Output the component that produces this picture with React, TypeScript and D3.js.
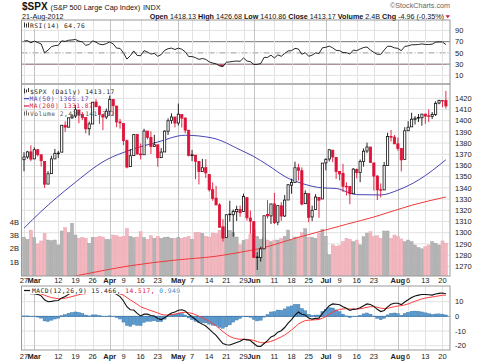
import React from "react";
import * as d3 from "d3";

// trading days shown (Feb 27 .. Aug 21, 2012)
const dates = [
  "2012-02-27","2012-02-28","2012-02-29","2012-03-01","2012-03-02",
  "2012-03-05","2012-03-06","2012-03-07","2012-03-08","2012-03-09",
  "2012-03-12","2012-03-13","2012-03-14","2012-03-15","2012-03-16",
  "2012-03-19","2012-03-20","2012-03-21","2012-03-22","2012-03-23",
  "2012-03-26","2012-03-27","2012-03-28","2012-03-29","2012-03-30",
  "2012-04-02","2012-04-03","2012-04-04","2012-04-05",
  "2012-04-09","2012-04-10","2012-04-11","2012-04-12","2012-04-13",
  "2012-04-16","2012-04-17","2012-04-18","2012-04-19","2012-04-20",
  "2012-04-23","2012-04-24","2012-04-25","2012-04-26","2012-04-27",
  "2012-04-30","2012-05-01","2012-05-02","2012-05-03","2012-05-04",
  "2012-05-07","2012-05-08","2012-05-09","2012-05-10","2012-05-11",
  "2012-05-14","2012-05-15","2012-05-16","2012-05-17","2012-05-18",
  "2012-05-21","2012-05-22","2012-05-23","2012-05-24","2012-05-25",
  "2012-05-29","2012-05-30","2012-05-31","2012-06-01",
  "2012-06-04","2012-06-05","2012-06-06","2012-06-07","2012-06-08",
  "2012-06-11","2012-06-12","2012-06-13","2012-06-14","2012-06-15",
  "2012-06-18","2012-06-19","2012-06-20","2012-06-21","2012-06-22",
  "2012-06-25","2012-06-26","2012-06-27","2012-06-28","2012-06-29",
  "2012-07-02","2012-07-03","2012-07-05","2012-07-06",
  "2012-07-09","2012-07-10","2012-07-11","2012-07-12","2012-07-13",
  "2012-07-16","2012-07-17","2012-07-18","2012-07-19","2012-07-20",
  "2012-07-23","2012-07-24","2012-07-25","2012-07-26","2012-07-27",
  "2012-07-30","2012-07-31","2012-08-01","2012-08-02","2012-08-03",
  "2012-08-06","2012-08-07","2012-08-08","2012-08-09","2012-08-10",
  "2012-08-13","2012-08-14","2012-08-15","2012-08-16","2012-08-17",
  "2012-08-20","2012-08-21",
];

const opens = [
  1365.2,1367.6,1372.2,1365.9,1374.1, 1369.6,1363.6,1343.4,1352.7,1365.9,
  1370.8,1371.9,1395.9,1394.2,1402.6, 1404.2,1409.6,1405.5,1402.9,1392.8,
  1397.1,1416.6,1412.5,1405.4,1403.3, 1408.5,1419.0,1413.1,1398.8,
  1397.5,1382.2,1359.0,1368.8,1387.6, 1370.3,1369.6,1390.8,1385.1,1377.0,
  1378.5,1367.0,1372.1,1390.6,1400.2, 1403.3,1397.9,1405.5,1402.3,1391.5,
  1368.8,1369.2,1363.7,1354.6,1358.1, 1351.9,1338.4,1330.8,1324.8,1305.1,
  1295.7,1316.1,1316.0,1318.7,1320.8, 1318.9,1331.3,1313.1,1309.9,
  1278.3,1277.8,1285.6,1316.2,1315.0, 1325.7,1309.4,1324.0,1314.9,1329.2,
  1342.4,1344.8,1358.0,1355.4,1325.9, 1334.9,1314.1,1320.7,1331.5,1330.1,
  1362.3,1365.8,1373.7,1367.1, 1354.7,1353.0,1341.4,1341.3,1334.8,
  1356.5,1353.7,1363.5,1373.0,1376.5, 1362.3,1350.5,1338.4,1338.2,1360.1,
  1385.9,1385.3,1379.3,1375.1,1365.5, 1391.0,1394.5,1401.2,1402.3,1402.6,
  1405.9,1404.4,1403.9,1405.6,1415.8, 1417.9,1418.13,
];
const highs = [
  1371.9,1373.1,1378.0,1376.2,1374.5, 1369.6,1363.6,1354.9,1368.7,1374.8,
  1373.0,1396.1,1399.4,1402.6,1405.9, 1414.0,1409.6,1407.8,1402.9,1399.2,
  1416.6,1419.2,1413.7,1405.4,1410.9, 1422.4,1419.0,1413.1,1401.6,
  1397.5,1383.0,1374.7,1388.1,1387.6, 1379.7,1392.8,1390.8,1390.5,1387.4,
  1378.5,1375.6,1391.4,1402.1,1406.6, 1403.3,1415.3,1405.5,1403.1,1391.5,
  1373.9,1369.2,1363.7,1365.9,1365.7, 1351.9,1344.9,1341.8,1326.4,1312.2,
  1316.4,1328.5,1320.7,1324.1,1324.2, 1334.9,1331.3,1319.7,1309.9,
  1282.6,1287.6,1315.1,1329.1,1325.8, 1335.5,1324.3,1327.3,1333.7,1343.3,
  1348.2,1363.5,1361.6,1358.3,1337.8, 1334.9,1324.2,1334.4,1331.5,1362.2,
  1366.4,1374.8,1373.9,1367.1, 1354.9,1361.5,1345.0,1341.3,1357.7,
  1357.3,1365.4,1375.3,1380.4,1376.5, 1362.3,1351.5,1344.0,1363.1,1389.2,
  1391.7,1387.2,1385.0,1375.1,1394.2, 1399.6,1407.1,1404.1,1406.0,1406.0,
  1405.9,1410.0,1407.7,1417.4,1418.7, 1418.1,1426.68,
];
const lows = [
  1354.9,1365.9,1363.8,1365.9,1368.0, 1359.1,1340.0,1343.4,1352.7,1365.9,
  1366.7,1371.9,1390.0,1394.2,1401.5, 1402.4,1397.7,1400.6,1388.7,1386.9,
  1397.1,1411.9,1397.2,1391.6,1401.4, 1404.5,1404.6,1394.1,1392.9,
  1378.2,1357.4,1359.0,1368.8,1369.9, 1365.4,1369.6,1383.3,1370.3,1377.0,
  1358.8,1366.8,1372.1,1387.3,1397.3, 1394.0,1395.7,1393.9,1388.7,1368.0,
  1363.9,1347.8,1343.1,1354.6,1348.9, 1336.6,1328.5,1324.8,1304.9,1292.0,
  1295.7,1310.0,1296.5,1310.5,1314.2, 1318.9,1310.8,1298.9,1277.3,
  1266.7,1274.2,1285.6,1312.7,1307.8, 1307.7,1306.6,1310.5,1314.1,1329.2,
  1334.8,1344.8,1346.5,1324.4,1325.9, 1309.3,1310.3,1320.7,1313.3,1330.1,
  1355.7,1363.5,1363.0,1348.0, 1346.7,1336.3,1333.2,1325.4,1334.8,
  1348.5,1345.1,1359.0,1371.2,1362.2, 1337.6,1329.2,1331.5,1338.2,1360.1,
  1381.4,1379.2,1373.1,1354.7,1365.5, 1391.0,1394.5,1396.6,1398.8,1395.6,
  1397.3,1398.8,1401.5,1404.2,1414.7, 1412.1,1410.86,
];
const closes = [
  1367.59,1372.18,1365.68,1374.09,1369.63, 1364.33,1343.36,1352.63,1365.91,1370.87,
  1371.09,1395.95,1394.28,1402.60,1404.17, 1409.75,1405.52,1402.89,1392.78,1397.11,
  1416.51,1412.52,1405.54,1403.28,1408.47, 1419.04,1413.38,1398.96,1398.08,
  1382.20,1358.59,1368.71,1387.57,1370.26, 1369.57,1390.78,1385.14,1376.92,1378.53,
  1366.94,1371.97,1390.69,1399.98,1403.36, 1397.91,1405.82,1402.31,1391.57,1369.10,
  1369.58,1363.72,1354.58,1357.99,1353.39, 1338.35,1330.66,1324.80,1304.86,1295.22,
  1315.99,1316.63,1318.86,1320.68,1317.82, 1332.42,1313.32,1310.33,1278.04,
  1278.18,1285.50,1315.13,1314.99,1325.66, 1308.93,1324.18,1314.88,1329.10,1342.84,
  1344.78,1357.98,1355.69,1325.51,1335.02, 1313.72,1319.99,1331.85,1329.04,1362.16,
  1365.51,1374.02,1367.58,1354.68, 1352.46,1341.47,1341.45,1334.76,1356.78,
  1353.64,1363.67,1372.78,1376.51,1362.66, 1350.52,1338.31,1337.89,1360.02,1385.97,
  1385.30,1379.32,1375.32,1365.00,1390.99, 1394.23,1401.35,1402.22,1402.80,1405.87,
  1404.11,1403.93,1405.53,1415.51,1418.16, 1418.13,1413.17,
];
const priorClose = 1365.74;

// volume, billions of shares
const volumes = [
  2.88,2.72,3.43,2.85,2.37, 2.6,3.18,2.67,2.62,2.67,
  2.29,3.36,3.61,3.23,3.95, 3.05,2.8,2.88,2.8,2.42,
  2.88,2.88,2.95,2.9,2.72, 2.7,3.05,3.0,2.9,
  2.95,3.55,2.95,2.85,2.9, 3.3,2.85,2.72,3.0,2.8,
  2.95,2.8,2.88,2.9,2.8, 2.8,2.88,2.8,2.88,2.95,
  2.72,3.23,3.23,3.18,2.95, 2.9,3.2,3.15,3.4,3.69,
  2.88,3.4,3.25,2.9,2.3, 2.65,2.7,3.1,3.45,
  2.95,2.72,2.8,2.67,2.55, 2.67,2.67,2.8,2.95,3.43,
  2.67,2.9,2.9,3.23,3.55, 2.88,2.88,2.8,3.18,3.49,
  2.95,1.55,2.3,2.2, 2.25,2.55,2.8,2.72,2.55,
  2.67,2.3,2.93,3.2,3.3, 2.93,3.0,2.8,3.36,3.36,
  2.8,3.05,2.93,2.75,2.55, 2.67,2.55,2.29,2.1,2.0,
  2.16,2.29,2.55,2.42,2.29, 2.6,2.436,
];

const rsi14 = [
  71,72,68,71,68.5, 66,50,55,61,63,
  63.5,71.5,70.5,72.5,73, 74,71,69.5,63.5,65,
  71.5,69,65.5,64.5,66.5, 69.5,66,58.5,58,
  50,39,45,53.5,45.5, 45,54,51.5,48,49,
  44,47,54.5,57.5,58.5, 56,58.5,56.5,52,43.5,
  43.5,41.5,38.5,40,38.5, 34,32,30.5,27,25.5,
  33.5,34,35,35.5,35, 41,35.5,34.5,29.5,
  29.5,31,42,42,46, 41,46.5,44,49,53.5,
  54,58,57,47.5,50.5, 44,46,50,49,59,
  60,62,59,54.5, 54,50.5,50.5,48,55,
  54,57,59.5,60.5,55, 51,47.5,47.5,55,62,
  61.5,59,58,54,61.5, 62.5,64.5,64.5,65,66,
  65,65,65.5,69,69.5, 69.5,64.76,
];

const macdLine = [
  15.8,15.9,15.4,15.5,15.0, 14.0,11.3,10.0,10.2,10.6,
  10.8,12.6,13.6,15.0,16.1, 17.2,17.4,17.3,16.4,15.9,
  16.8,17.0,16.6,16.0,15.9, 16.4,16.2,15.0,13.5,
  10.5,6.6,4.5,4.3,2.0, 0.3,1.5,1.5,0.6,0.2,
  -1.4,-2.2,-1.0,0.8,2.3, 3.0,4.2,4.5,3.7,1.4,
  -0.3,-2.1,-4.1,-5.3,-6.6, -8.7,-10.9,-12.9,-15.9,-18.5,
  -19.3,-19.5,-18.6,-17.8,-17.0, -15.6,-16.0,-16.5,-18.5,
  -20.3,-20.5,-18.5,-16.5,-14.0, -13.0,-10.8,-9.8,-7.6,-4.6,
  -2.2,0.9,3.0,1.4,0.9, -1.2,-1.9,-1.4,-1.2,2.0,
  4.6,7.3,8.5,8.3, 7.9,6.6,5.5,4.1,4.8,
  5.0,5.9,7.3,8.5,8.1, 6.8,4.8,3.3,4.0,6.5,
  8.2,8.9,8.9,8.0,9.8, 11.3,12.9,13.9,14.5,14.9,
  14.9,14.7,14.5,15.2,15.7, 15.9,15.466,
];
const signalLine = [
  15.5,15.6,15.6,15.6,15.5, 15.2,14.4,13.5,12.8,12.4,
  12.0,12.1,12.4,12.9,13.5, 14.2,14.8,15.3,15.5,15.6,
  15.8,16.0,16.1,16.1,16.1, 16.1,16.1,15.8,15.3,
  14.4,12.8,11.2,9.8,8.2, 6.6,5.6,4.8,3.9,3.2,
  2.3,1.4,0.9,0.9,1.2, 1.5,2.1,2.6,2.8,2.5,
  2.0,1.2,0.1,-1.0,-2.1, -3.4,-4.9,-6.5,-8.4,-10.4,
  -12.2,-13.7,-14.7,-15.3,-15.6, -15.6,-15.7,-15.9,-16.4,
  -17.2,-17.9,-18.0,-17.7,-17.0, -16.2,-15.1,-14.0,-12.7,-11.1,
  -9.3,-7.3,-5.2,-3.9,-2.9, -2.6,-2.5,-2.3,-2.1,-1.3,
  -0.1,1.4,2.8,3.9, 4.7,5.1,5.2,5.0,5.0,
  5.0,5.2,5.6,6.2,6.6, 6.6,6.2,5.6,5.3,5.5,
  6.1,6.6,7.1,7.3,7.8, 8.5,9.4,10.3,11.1,11.9,
  12.5,12.9,13.2,13.6,14.0, 14.4,14.517,
];
const macdHist = [
  0.3,0.3,-0.2,-0.1,-0.5, -1.2,-3.1,-3.5,-2.6,-1.8,
  -1.2,0.5,1.2,2.1,2.6, 3.0,2.6,2.0,0.9,0.3,
  1.0,1.0,0.5,-0.1,-0.2, 0.3,0.1,-0.8,-1.8,
  -3.9,-6.2,-6.7,-5.5,-6.2, -6.3,-4.1,-3.3,-3.3,-3.0,
  -3.7,-3.6,-1.9,-0.1,1.1, 1.5,2.1,1.9,0.9,-1.1,
  -2.3,-3.3,-4.2,-4.3,-4.5, -5.3,-6.0,-6.4,-7.5,-8.1,
  -7.1,-5.8,-3.9,-2.5,-1.4, 0.0,-0.3,-0.6,-2.1,
  -3.1,-2.6,-0.5,1.2,3.0, 3.2,4.3,4.2,5.1,6.5,
  7.1,8.2,8.2,5.3,3.8, 1.4,0.6,0.9,0.9,3.3,
  4.7,5.9,5.7,4.4, 3.2,1.5,0.3,-0.9,-0.2,
  0.0,0.7,1.7,2.3,1.5, 0.2,-1.4,-2.3,-1.3,1.0,
  2.1,2.3,1.8,0.7,2.0, 2.8,3.5,3.6,3.4,3.0,
  2.4,1.8,1.3,1.6,1.7, 1.5,0.949,
];

// moving averages at a few dates
const ma50Dates = ["2012-02-27","2012-03-05","2012-03-16","2012-03-30","2012-04-11","2012-04-23",
  "2012-05-03","2012-05-15","2012-05-25","2012-06-01","2012-06-07","2012-06-15","2012-06-21",
  "2012-06-29","2012-07-06","2012-07-12","2012-07-16","2012-07-25","2012-08-01","2012-08-09","2012-08-21"];
const ma50Values = [1304,1319,1342.6,1365,1373.8,1381,1387,1384.5,1374,1368,1360.5,1348.6,1344,
  1340,1339.5,1335.5,1334,1333.7,1338,1347,1365.17];
const ma200Dates = ["2012-02-27","2012-03-20","2012-04-11","2012-04-30","2012-05-16","2012-05-25",
  "2012-06-05","2012-06-19","2012-07-02","2012-07-11","2012-07-23","2012-08-07","2012-08-21"];
const ma200Values = [1252.5,1262,1270.5,1275.5,1279,1282.5,1286,1295,1302.5,1307.5,1314,1324.5,1331.87];

const tickDates = ["2012-02-27","2012-03-01","2012-03-12","2012-03-19","2012-03-26","2012-04-02",
  "2012-04-09","2012-04-16","2012-04-23","2012-05-01","2012-05-07","2012-05-14","2012-05-21",
  "2012-05-29","2012-06-01","2012-06-11","2012-06-18","2012-06-25","2012-07-02","2012-07-09",
  "2012-07-16","2012-07-23","2012-08-01","2012-08-06","2012-08-13","2012-08-20"];
const tickLabels = ["27","Mar","12","19","26","Apr","9","16","23","May","7","14","21",
  "29","Jun","11","18","25","Jul","9","16","23","Aug","6","13","20"];

const priceTicks = [1270,1280,1290,1300,1310,1320,1330,1340,1350,1360,1370,1380,1390,1400,1410,1420];
const volumeTicks = [1, 2, 3, 4];
const rsiTicks = [10, 30, 50, 70, 90];
const macdTicks = [10, 0, -10, -20];

const L = 21.5, R = 450;
const rsiTop = 20, rsiBot = 84;
const priceTop = 84, priceBot = 276;
const macdTop = 286, macdBot = 350;

const RED = "#dc1438";
const FONT = "Liberation Sans, Arial, sans-serif";
const MONO = "DejaVu Sans Mono, monospace";

export default function App() {
  const dayIndex = new Map(dates.map((d, i) => [d, i]));
  const x = d3.scaleLinear().domain([0, dates.length - 1]).range([24, 445.9]);
  const yP = d3.scaleLinear().domain([1270, 1420]).range([266.3, 98.3]);
  const yV = d3.scaleLinear().domain([0, 4]).range([275, 222.6]);
  const yR = d3.scaleLinear().domain([0, 100]).range([81, 24.8]);
  const yM = d3.scaleLinear().domain([-20, 10]).range([345.7, 301.7]);

  const rsiPath = d3.line<number>().x((_, i) => x(i)).y((v) => yR(v))(rsi14) || "";
  const rsiArea = d3.area<number>().x((_, i) => x(i)).y0(yR(30)).y1((v) => yR(v))(rsi14) || "";
  const macdPath = d3.line<number>().x((_, i) => x(i)).y((v) => yM(v))(macdLine) || "";
  const sigPath = d3.line<number>().x((_, i) => x(i)).y((v) => yM(v))(signalLine) || "";
  const maLine = d3.line<[number, number]>().x((d) => x(d[0])).y((d) => yP(d[1])).curve(d3.curveMonotoneX);
  const ma50Path = maLine(ma50Dates.map((d, k) => [dayIndex.get(d)!, ma50Values[k]])) || "";
  const ma200Path = maLine(ma200Dates.map((d, k) => [dayIndex.get(d)!, ma200Values[k]])) || "";

  const ticks = tickDates.map((d, k) => ({ i: dayIndex.get(d)!, label: tickLabels[k], month: /^[A-Z]/.test(tickLabels[k]) }));

  const vGrid = (top: number, bot: number) =>
    ticks.map((t, k) => (
      <line key={"g" + k} x1={Math.round(x(t.i)) + 0.5} x2={Math.round(x(t.i)) + 0.5} y1={top} y2={bot}
        stroke={t.month ? "#c4c4c4" : "#e2e2e2"} strokeWidth={1} />
    ));

  const dateRow = (y: number) =>
    ticks.map((t, k) => (
      <text key={"d" + k} x={x(t.i)} y={y} textAnchor="middle" fontSize={7.5}
        fontWeight={t.month ? "bold" : "normal"} fill="#222">{t.label}</text>
    ));

  // legend font: small size with extra letter spacing keeps the chart's character pitch
  const legend = { fontFamily: MONO, fontSize: 6.3, letterSpacing: 0.45 };

  return (
    <svg width={480} height={363} style={{ position: "absolute", left: 0, top: 0, background: "#fff" }}
      fontFamily={FONT}>
      <defs>
        <clipPath id="cr"><rect x={L} y={rsiTop} width={R - L} height={rsiBot - rsiTop} /></clipPath>
        <clipPath id="cr30"><rect x={L} y={yR(30)} width={R - L} height={rsiBot - yR(30)} /></clipPath>
        <clipPath id="cp"><rect x={L} y={priceTop} width={R - L} height={priceBot - priceTop} /></clipPath>
        <clipPath id="cm"><rect x={L} y={macdTop} width={R - L} height={macdBot - macdTop} /></clipPath>
      </defs>
      <rect width={480} height={363} fill="#fff" />

      {/* header */}
      <text x={22} y={10.3} fontSize={10} fontWeight="bold" fill="#111">$SPX
        <tspan fontSize={7.3} fontWeight="normal" dx={3}>(S&amp;P 500 Large Cap Index)</tspan>
        <tspan fontSize={7.3} fontWeight="normal" dx={3}>INDX</tspan>
      </text>
      <text x={22} y={19.4} fontSize={7.2} fill="#111">21-Aug-2012</text>
      <text x={450} y={7.8} fontSize={7.2} fill="#666" textAnchor="end">©StockCharts.com</text>
      <text x={444} y={19.4} fontSize={7.2} fill="#111" textAnchor="end">
        <tspan fontWeight="bold">Open</tspan> 1418.13 <tspan fontWeight="bold">High</tspan> 1426.68{" "}
        <tspan fontWeight="bold">Low</tspan> 1410.86 <tspan fontWeight="bold">Close</tspan> 1413.17{" "}
        <tspan fontWeight="bold">Volume</tspan> 2.4B <tspan fontWeight="bold">Chg</tspan> -4.96 (-0.35%)
      </text>
      <path d="M445.5,15.2 L450,15.2 L447.75,18.2 Z" fill={RED} />

      {/* RSI panel */}
      {rsiTicks.map((t) => (
        <line key={"rg" + t} x1={L} x2={R} y1={yR(t)} y2={yR(t)}
          stroke={t === 70 || t === 30 ? "#777" : t === 50 ? "#999" : "#e2e2e2"}
          strokeDasharray={t === 50 ? "6,2,1,2" : undefined} strokeWidth={1} />
      ))}
      {vGrid(rsiTop, rsiBot)}
      <g clipPath="url(#cr)">
        <path d={rsiArea} fill="#b8304c" clipPath="url(#cr30)" />
        <path d={rsiPath} fill="none" stroke="#111" strokeWidth={0.9} />
      </g>
      <rect x={23} y={21.5} width={66} height={7.5} fill="#fff" />
      <path d="M24.5,22.5 v5 M26.5,23.5 v4 M28.5,22.5 v5" stroke="#333" strokeWidth={1} />
      <text x={30} y={27.8} {...legend} fill="#222">RSI(14) 64.76</text>
      {rsiTicks.map((t) => (
        <text key={"rt" + t} x={455} y={yR(t) + 2.6} fontSize={7.5} fill="#222">{t}</text>
      ))}
      <rect x={L} y={rsiTop} width={R - L} height={rsiBot - rsiTop} fill="none" stroke="#999" />

      {/* price panel */}
      {priceTicks.map((t) => (
        <line key={"pg" + t} x1={L} x2={R} y1={yP(t)} y2={yP(t)} stroke="#e2e2e2" />
      ))}
      {vGrid(priceTop, priceBot)}
      <g clipPath="url(#cp)">
        {volumes.map((v, i) => {
          const down = closes[i] < (i === 0 ? priorClose : closes[i - 1]);
          return (
            <rect key={"v" + i} x={x(i) - 1.5} y={yV(v)} width={3} height={yV(0) - yV(v) + 2}
              fill={down ? "#f3b7c0" : "#b4b4b4"} stroke={down ? "#e79aa6" : "#9c9c9c"} strokeWidth={0.4} />
          );
        })}
        <path d={ma200Path} fill="none" stroke="#f03a3a" strokeWidth={1} />
        <path d={ma50Path} fill="none" stroke="#4646b4" strokeWidth={1} />
        {closes.map((c, i) => {
          const prev = i === 0 ? priorClose : closes[i - 1];
          const col = c < prev ? RED : "#111";
          const o = opens[i];
          const hollow = c >= o;
          const top = yP(Math.max(o, c));
          const bot = yP(Math.min(o, c));
          return (
            <g key={"c" + i}>
              <line x1={x(i)} x2={x(i)} y1={yP(highs[i])} y2={yP(lows[i])} stroke={col} strokeWidth={0.9} />
              <rect x={x(i) - 1.1} y={top} width={2.2} height={Math.max(bot - top, 0.6)}
                fill={hollow ? "#fff" : col} stroke={col} strokeWidth={0.8} />
            </g>
          );
        })}
      </g>
      <g {...legend}>
        <path d="M24.5,88.5 v5 M26.5,89.5 v3 M28.5,88 v4" stroke="#333" strokeWidth={1} />
        <text x={30} y={93.6} fill="#222">$SPX (Daily) 1413.17</text>
        <line x1={24} x2={29} y1={98.6} y2={98.6} stroke="#4646b4" strokeWidth={1.2} />
        <text x={29.5} y={101} fill="#4646b4">MA(50) 1365.17</text>
        <line x1={24} x2={29} y1={106} y2={106} stroke={RED} strokeWidth={1.2} />
        <text x={29.5} y={108.4} fill={RED}>MA(200) 1331.87</text>
        <path d="M24.5,111.5 v4 M26.5,110.5 v5 M28.5,112.5 v3" stroke="#666" strokeWidth={1} />
        <text x={30} y={115.8} fill="#555">Volume 2,436,141,312</text>
      </g>
      {priceTicks.map((t) => (
        <text key={"pt" + t} x={455} y={yP(t) + 2.6} fontSize={7.5} fill="#222">{t}</text>
      ))}
      {volumeTicks.map((t) => (
        <text key={"vt" + t} x={19} y={yV(t) + 2.6} fontSize={7.5} fill="#222" textAnchor="end">{t}B</text>
      ))}
      <rect x={L} y={priceTop} width={R - L} height={priceBot - priceTop} fill="none" stroke="#999" />

      {dateRow(283)}

      {/* MACD panel */}
      {macdTicks.map((t) => (
        <line key={"mg" + t} x1={L} x2={R} y1={yM(t)} y2={yM(t)} stroke="#e2e2e2" />
      ))}
      {vGrid(macdTop, macdBot)}
      <g clipPath="url(#cm)">
        {macdHist.map((h, i) => (
          <rect key={"h" + i} x={x(i) - 1.5} y={Math.min(yM(h), yM(0))} width={3}
            height={Math.max(Math.abs(yM(h) - yM(0)), 0.4)} fill="#5b9bd0" stroke="#2f6fa6" strokeWidth={0.4} />
        ))}
        <line x1={L} x2={R} y1={yM(0)} y2={yM(0)} stroke="#2f6fa6" strokeWidth={0.6} />
        <path d={sigPath} fill="none" stroke="#ff3b3b" strokeWidth={1} />
        <path d={macdPath} fill="none" stroke="#111" strokeWidth={1.1} />
      </g>
      <rect x={23} y={287} width={158} height={7} fill="#fff" />
      <line x1={24} x2={30} y1={290.5} y2={290.5} stroke="#111" strokeWidth={1.2} />
      <text x={32} y={293} {...legend} fill="#222">MACD(12,26,9) 15.466,
        <tspan fill={RED}> 14.517,</tspan>
        <tspan fill="#3a8cc8"> 0.949</tspan>
      </text>
      {macdTicks.map((t) => (
        <text key={"mt" + t} x={455} y={yM(t) + 2.6} fontSize={7.5} fill="#222">{t}</text>
      ))}
      <rect x={L} y={macdTop} width={R - L} height={macdBot - macdTop} fill="none" stroke="#999" />

      {dateRow(359)}
    </svg>
  );
}
